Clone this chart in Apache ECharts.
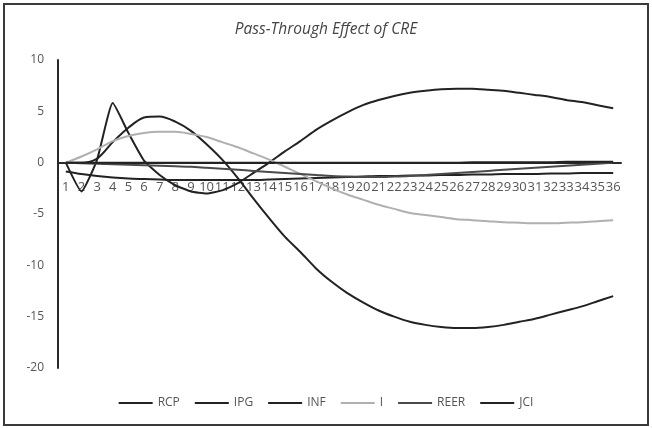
<!DOCTYPE html>
<html>
<head>
<meta charset="utf-8">
<script src="https://cdn.jsdelivr.net/npm/echarts@6/dist/echarts.min.js"></script>
<style>
html,body{margin:0;padding:0;background:#fff;}
#frame{position:absolute;left:3px;top:3px;width:642px;height:419px;border:2px solid #3a3a3a;}
#chart{position:absolute;left:0;top:0;width:652px;height:428px;}
</style>
</head>
<body>
<div id="frame"></div>
<div id="chart"></div>
<script>
const categories = ['1','2','3','4','5','6','7','8','9','10','11','12','13','14','15','16','17','18','19','20','21','22','23','24','25','26','27','28','29','30','31','32','33','34','35','36'];
const seriesNames = ['RCP','IPG','INF','I','REER','JCI'];
const rcp = [0,-2.8,0.3,5.8,2.9,0.2,-1.2,-2.2,-2.8,-3.0,-2.7,-2.0,-1.0,0.0,1.1,2.1,3.2,4.1,4.9,5.6,6.1,6.5,6.8,7.0,7.15,7.2,7.2,7.1,7.0,6.8,6.6,6.4,6.1,5.9,5.6,5.3];
const ipg = [0,0.0,0.4,2.0,3.4,4.4,4.5,4.0,3.1,1.8,0.3,-1.5,-3.5,-5.4,-7.2,-8.7,-10.3,-11.6,-12.7,-13.6,-14.4,-15.0,-15.5,-15.8,-16.0,-16.1,-16.1,-16.0,-15.8,-15.5,-15.2,-14.8,-14.4,-14.0,-13.5,-13.0];
const inf = [-0.85,-1.1,-1.3,-1.45,-1.55,-1.6,-1.65,-1.7,-1.7,-1.7,-1.7,-1.7,-1.7,-1.65,-1.6,-1.55,-1.5,-1.45,-1.4,-1.35,-1.3,-1.3,-1.25,-1.25,-1.2,-1.2,-1.15,-1.15,-1.1,-1.1,-1.1,-1.05,-1.05,-1.0,-1.0,-1.0];
const iRate = [0,0.6,1.3,2.1,2.6,2.9,3.0,3.0,2.8,2.5,2.0,1.5,0.9,0.3,-0.4,-1.1,-1.8,-2.5,-3.1,-3.6,-4.1,-4.5,-4.9,-5.1,-5.3,-5.5,-5.6,-5.7,-5.8,-5.85,-5.9,-5.9,-5.85,-5.8,-5.7,-5.6];
const reer = [0,-0.05,-0.1,-0.15,-0.2,-0.25,-0.3,-0.35,-0.4,-0.5,-0.6,-0.7,-0.8,-0.9,-1.0,-1.1,-1.2,-1.3,-1.35,-1.4,-1.4,-1.35,-1.3,-1.2,-1.1,-1.0,-0.9,-0.8,-0.7,-0.6,-0.5,-0.4,-0.3,-0.2,-0.1,0.0];
const jci = [0,0.0,0.0,0.0,0.0,0.0,0.0,0.0,0.0,0.0,0.0,0.0,0.0,0.0,0.0,0.0,0.0,0.0,0.0,0.0,0.0,0.0,0.0,0.0,0.0,0.0,0.05,0.05,0.05,0.05,0.05,0.05,0.1,0.1,0.1,0.1];
const yTicks = [-20,-15,-10,-5,0,5,10];

const dataList = [rcp, ipg, inf, iRate, reer, jci];
const colors = ['#222222','#222222','#222222','#b0b0b0','#4a4a4a','#222222'];

const gridTop = 60, gridBottom = 60, H = 428;
const yMin = yTicks[0], yMax = yTicks[yTicks.length-1];
const plotH = H - gridTop - gridBottom;
// move the category axis (line and labels) up to the zero line, as in the original
const zeroOffset = -plotH * (0 - yMin) / (yMax - yMin);

const chart = echarts.init(document.getElementById('chart'), null, {renderer:'canvas'});
chart.setOption({
  animation:false,
  backgroundColor:'transparent',
  title:{
    text:'Pass-Through Effect of CRE',
    left:'center', top:17,
    textStyle:{fontFamily:'Open Sans', fontStyle:'italic', fontWeight:'normal', fontSize:15.5, color:'#444'}
  },
  legend:{
    data:seriesNames,
    bottom:14, left:'center',
    itemWidth:34, itemHeight:2, itemGap:15,
    icon:'rect',
    textStyle:{fontFamily:'Open Sans', fontSize:12, color:'#555'}
  },
  grid:{left:58, right:31, top:gridTop, bottom:gridBottom, containLabel:false},
  xAxis:{
    type:'category', data:categories, boundaryGap:true,
    offset: zeroOffset,
    axisLine:{onZero:false, lineStyle:{color:'#2a2a2a', width:2}},
    axisTick:{show:false},
    axisLabel:{interval:0, margin:18, fontFamily:'Open Sans', fontSize:13, color:'#555'}
  },
  yAxis:{
    type:'value', min:yMin, max:yMax, interval:5,
    axisLine:{show:true, lineStyle:{color:'#2a2a2a', width:2}},
    axisTick:{show:false},
    splitLine:{show:false},
    axisLabel:{margin:14, fontFamily:'Open Sans', fontSize:12, color:'#555'}
  },
  series: seriesNames.map((n,i)=>({
    name:n, type:'line', data:dataList[i], smooth:(i===0?0.15:0.3),
    showSymbol:false, symbol:'none',
    lineStyle:{color:colors[i], width:2},
    itemStyle:{color:colors[i]}
  }))
});
</script>
</body>
</html>
